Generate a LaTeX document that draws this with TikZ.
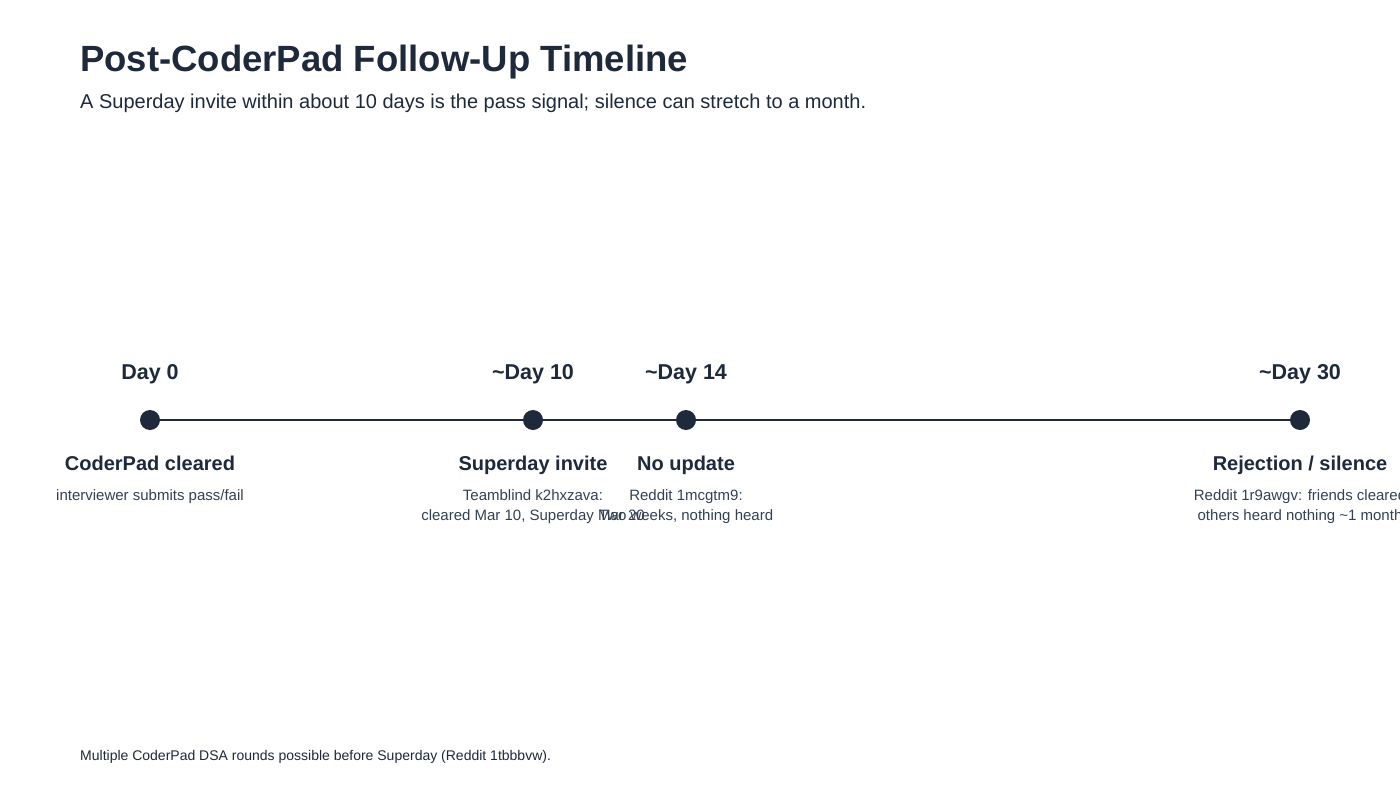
\documentclass[tikz,border=0pt]{standalone}
\usepackage{fontspec}
\setmainfont{Liberation Sans}
\definecolor{ink}{HTML}{1E293B}
\definecolor{subink}{HTML}{334155}
\begin{document}
\begin{tikzpicture}[x=1pt,y=-1pt,
  dot/.style={circle,fill=ink,minimum size=20pt,inner sep=0pt},
  daylbl/.style={anchor=base,text=ink,font=\fontsize{21.5}{26}\selectfont\bfseries,inner sep=0pt},
  evtitle/.style={anchor=base,text=ink,font=\fontsize{20}{24}\selectfont\bfseries,inner sep=0pt},
  evdesc/.style={anchor=base,text=subink,font=\fontsize{15}{20}\selectfont,align=center,inner sep=0pt},
  axis/.style={draw=ink,line width=2pt}]
\useasboundingbox (0,0) rectangle (1400,800);
\fill[white] (0,0) rectangle (1400,800);
\node[anchor=base west,inner sep=0pt,text=ink,font=\fontsize{36.5}{43}\selectfont\bfseries] (title) at (80,71) {Post-CoderPad Follow-Up Timeline};
\node[anchor=base west,inner sep=0pt,text=ink,font=\fontsize{20}{24}\selectfont] (sub) at (80,108) {A Superday invite within about 10 days is the pass signal; silence can stretch to a month.};
\node[dot] (d0) at (150,420) {};
\node[dot] (d1) at (533,420) {};
\node[dot] (d2) at (686,420) {};
\node[dot] (d3) at (1300,420) {};
\draw[axis] (d0) -- (d1);
\draw[axis] (d1) -- (d2);
\draw[axis] (d2) -- (d3);
\node[daylbl] (l0) at (150,379) {Day 0};
\node[daylbl] (l1) at (533,379) {\textasciitilde Day 10};
\node[daylbl] (l2) at (686,379) {\textasciitilde Day 14};
\node[daylbl] (l3) at (1300,379) {\textasciitilde Day 30};
\node[evtitle] (t0) at (150,470) {CoderPad cleared};
\node[evtitle] (t1) at (533,470) {Superday invite};
\node[evtitle] (t2) at (686,470) {No update};
\node[evtitle] (t3) at (1300,470) {Rejection / silence};
\node[evdesc] (e0) at (150,500) {interviewer submits pass/fail};
\node[evdesc] (e1) at (533,520) {Teamblind k2hxzava:\\cleared Mar 10, Superday Mar 20};
\node[evdesc] (e2) at (686,520) {Reddit 1mcgtm9:\\Two weeks, nothing heard};
\node[evdesc] (e3) at (1300,520) {Reddit 1r9awgv: friends cleared\\others heard nothing \textasciitilde 1 month};
\node[anchor=base west,inner sep=0pt,text=ink,font=\fontsize{14}{17}\selectfont] (foot) at (80,760) {Multiple CoderPad DSA rounds possible before Superday (Reddit 1tbbbvw).};
\end{tikzpicture}
\end{document}
